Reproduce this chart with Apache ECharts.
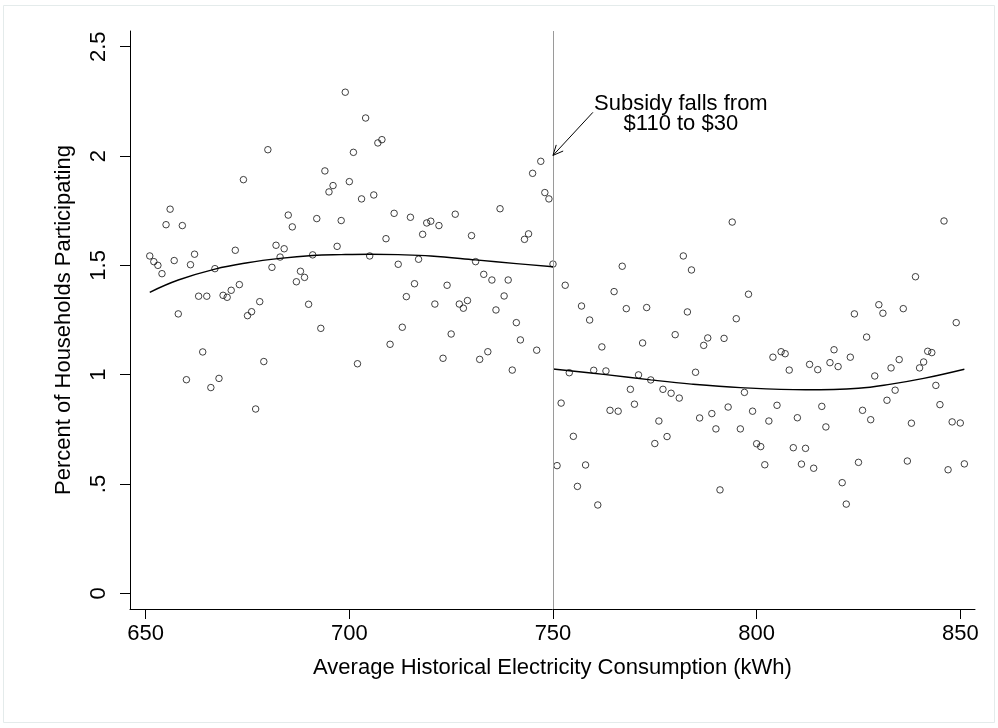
<!DOCTYPE html>
<html>
<head>
<meta charset="utf-8">
<script src="https://cdn.jsdelivr.net/npm/echarts@6/dist/echarts.min.js"></script>
<style>
  html, body { margin: 0; padding: 0; background: #ffffff; }
  #chart { width: 998px; height: 728px; }
</style>
</head>
<body>
<div id="chart"></div>
<script>
// Households below the 750 kWh cutoff (old subsidy)
const belowX = [651,652,653,654,655,656,657,658,659,660,661,662,663,664,665,666,667,668,669,670,
  671,672,673,674,675,676,677,678,679,680,681,682,683,684,685,686,687,688,689,690,
  691,692,693,694,695,696,697,698,699,700,701,702,703,704,705,706,707,708,709,710,
  711,712,713,714,715,716,717,718,719,720,721,722,723,724,725,726,727,728,729,730,
  731,732,733,734,735,736,737,738,739,740,741,742,743,744,745,746,747,748,749,750];
const belowY = [1.543,1.517,1.500,1.462,1.686,1.757,1.522,1.278,1.682,0.977,1.503,1.551,1.359,1.104,1.359,0.941,1.485,0.983,1.363,1.354,
  1.386,1.569,1.412,1.892,1.270,1.288,0.843,1.334,1.060,2.029,1.491,1.592,1.538,1.576,1.730,1.676,1.425,1.473,1.445,1.322,
  1.548,1.714,1.212,1.932,1.836,1.865,1.587,1.705,2.292,1.883,2.017,1.050,1.804,2.174,1.543,1.822,2.060,2.075,1.622,1.139,
  1.738,1.505,1.217,1.357,1.720,1.416,1.528,1.642,1.694,1.702,1.323,1.682,1.075,1.409,1.186,1.734,1.323,1.304,1.339,1.636,
  1.517,1.070,1.459,1.105,1.433,1.296,1.759,1.360,1.433,1.021,1.238,1.159,1.619,1.644,1.921,1.112,1.976,1.833,1.804,1.506];

// Households above the cutoff (reduced subsidy)
const aboveX = [751,752,753,754,755,756,757,758,759,760,761,762,763,764,765,766,767,768,769,770,
  771,772,773,774,775,776,777,778,779,780,781,782,783,784,785,786,787,788,789,790,
  791,792,793,794,795,796,797,798,799,800,801,802,803,804,805,806,807,808,809,810,
  811,812,813,814,815,816,817,818,819,820,821,822,823,824,825,826,827,828,829,830,
  831,832,833,834,835,836,837,838,839,840,841,842,843,844,845,846,847,848,849,850,851];
const aboveY = [0.584,0.870,1.409,1.009,0.718,0.489,1.314,0.587,1.250,1.020,0.404,1.127,1.017,0.837,1.380,0.833,1.496,1.302,0.933,0.865,
  0.999,1.145,1.307,0.976,0.685,0.788,0.933,0.717,0.915,1.183,0.893,1.543,1.287,1.479,1.011,0.802,1.134,1.168,0.822,0.752,
  0.473,1.166,0.852,1.698,1.256,0.752,0.919,1.368,0.833,0.684,0.671,0.588,0.788,1.080,0.860,1.105,1.096,1.021,0.666,0.803,
  0.591,0.663,1.047,0.572,1.023,0.855,0.761,1.055,1.114,1.037,0.506,0.408,1.080,1.278,0.599,0.837,1.172,0.794,0.994,1.320,
  1.281,0.883,1.031,0.929,1.069,1.302,0.605,0.778,1.448,1.031,1.058,1.107,1.101,0.951,0.863,1.703,0.565,0.784,1.238,0.779,0.592];

// Fitted curves on each side of the cutoff
const fitBelowX = [651, 658, 667, 675, 683, 691, 698, 705, 712, 720, 731, 741, 750];
const fitBelowY = [1.377, 1.433, 1.483, 1.512, 1.532, 1.545, 1.549, 1.551, 1.549, 1.543, 1.525, 1.508, 1.494];
const fitAboveX = [750, 763, 774, 784, 796, 812, 825, 833, 841, 851];
const fitAboveY = [1.026, 1.000, 0.976, 0.957, 0.941, 0.931, 0.938, 0.957, 0.983, 1.025];

// Axis ticks
const xTicks = [650, 700, 750, 800, 850];
const yTicks = [0, 0.5, 1, 1.5, 2, 2.5];
const yTickLabels = ['0', '.5', '1', '1.5', '2', '2.5'];

// Cutoff and its note
const cutoff = 750;
const noteText = 'Subsidy falls from\n$110 to $30';
const noteAt = [781.4, 2.193];
const arrowFrom = [759.8, 2.200];
const arrowTip = [750, 2.003];
const arrowWingA = [752.5, 2.023];
const arrowWingB = [750.8, 2.051];

const FONT = '"Liberation Sans", Arial, Helvetica, sans-serif';
const FS = 22;
const zip = (xs, ys) => xs.map((x, i) => [x, ys[i]]);

const hollow = {
  type: 'scatter',
  symbol: 'circle',
  symbolSize: 6.5,
  itemStyle: { color: 'rgba(0,0,0,0)', borderColor: '#111', borderWidth: 1 },
  silent: true
};
const fitLine = {
  type: 'line',
  smooth: 0.4,
  showSymbol: false,
  symbol: 'none',
  lineStyle: { color: '#000', width: 1.4 },
  silent: true,
  z: 3
};

const chart = echarts.init(document.getElementById('chart'), null, { renderer: 'canvas' });
chart.setOption({
  animation: false,
  backgroundColor: '#ffffff',
  textStyle: { fontFamily: FONT },
  graphic: [{
    type: 'rect',
    shape: { x: 3.5, y: 5.5, width: 991, height: 717 },
    style: { fill: 'none', stroke: '#e4ebeb', lineWidth: 1 },
    silent: true,
    z: -10
  }],
  grid: { left: 130, right: 23, top: 31, bottom: 119 },
  xAxis: {
    type: 'value',
    min: 646.15,
    max: 853.61,
    name: 'Average Historical Electricity Consumption (kWh)',
    nameLocation: 'middle',
    nameGap: 48,
    nameTextStyle: { color: '#000', fontSize: FS, fontFamily: FONT },
    axisLine: { show: true, onZero: false, lineStyle: { color: '#000', width: 1 } },
    axisTick: { show: true, length: 10, customValues: xTicks, lineStyle: { color: '#000', width: 1 } },
    axisLabel: { customValues: xTicks, color: '#000', fontSize: FS, fontFamily: FONT, margin: 14 },
    splitLine: { show: false }
  },
  yAxis: {
    type: 'value',
    min: -0.0718,
    max: 2.572,
    name: 'Percent of Households Participating',
    nameLocation: 'middle',
    nameGap: 55,
    nameRotate: 90,
    nameTextStyle: { color: '#000', fontSize: FS, fontFamily: FONT },
    axisLine: { show: true, onZero: false, lineStyle: { color: '#000', width: 1 } },
    axisTick: { show: true, length: 10, customValues: yTicks, lineStyle: { color: '#000', width: 1 } },
    axisLabel: {
      customValues: yTicks,
      rotate: 90,
      color: '#000', fontSize: FS, fontFamily: FONT, margin: 20,
      formatter: (v) => yTickLabels[yTicks.indexOf(Math.round(v * 10) / 10)]
    },
    splitLine: { show: false }
  },
  series: [
    Object.assign({}, hollow, {
      name: 'below',
      data: zip(belowX, belowY),
      markLine: {
        silent: true,
        symbol: ['none', 'none'],
        label: { show: false },
        lineStyle: { color: '#9a9a9a', width: 1, type: 'solid' },
        data: [{ xAxis: cutoff }]
      }
    }),
    Object.assign({}, hollow, {
      name: 'above',
      data: zip(aboveX, aboveY),
      markLine: {
        silent: true,
        symbol: ['none', 'none'],
        label: { show: false },
        lineStyle: { color: '#000', width: 1, type: 'solid' },
        data: [
          [{ coord: arrowFrom }, { coord: arrowTip }],
          [{ coord: arrowTip }, { coord: arrowWingA }],
          [{ coord: arrowTip }, { coord: arrowWingB }]
        ]
      },
      markPoint: {
        silent: true,
        symbol: 'circle',
        symbolSize: 0,
        label: {
          show: true,
          position: 'inside',
          color: '#000',
          fontSize: FS,
          lineHeight: 20,
          fontFamily: FONT,
          align: 'center',
          formatter: noteText
        },
        data: [{ coord: noteAt }]
      }
    }),
    Object.assign({}, fitLine, { name: 'fit below', data: zip(fitBelowX, fitBelowY) }),
    Object.assign({}, fitLine, { name: 'fit above', data: zip(fitAboveX, fitAboveY) })
  ]
});
</script>
</body>
</html>
